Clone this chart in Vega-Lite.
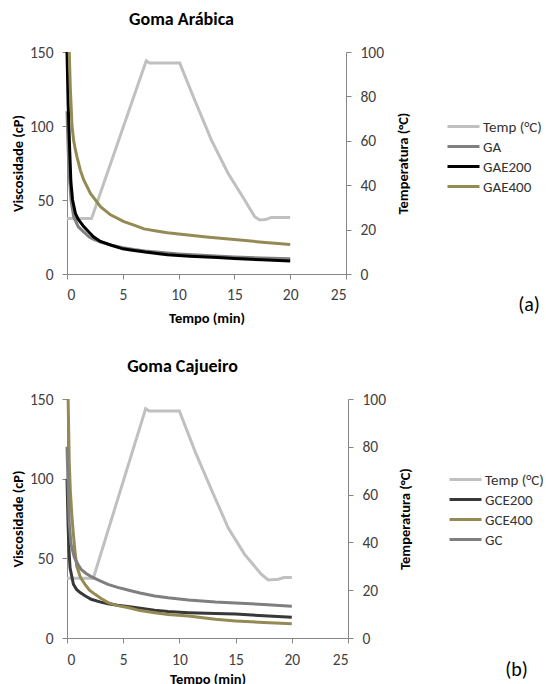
{
  "$schema": "https://vega.github.io/schema/vega-lite/v6.json",
  "padding": {"top": 11, "left": 10, "right": 2, "bottom": 0},
  "config": {
    "font": "Carlito, Lato, sans-serif",
    "view": {"stroke": null},
    "axis": {"grid": false, "domainColor": "#868686", "tickColor": "#868686", "labelFontSize": 15.5, "labelColor": "#404040", "titleFontSize": 14.5, "titleFontWeight": "bold", "titleColor": "#000000", "tickSize": 5},
    "legend": {"labelFontSize": 15, "labelColor": "#333333", "symbolType": "M-2,0H2", "symbolSize": 256, "symbolStrokeWidth": 3, "rowPadding": 2, "labelOffset": 10, "padding": 0},
    "title": {"fontSize": 18, "fontWeight": "bold", "color": "#000000"}
  },
  "datasets": {
    "aVisc": [
      {"s": "GA", "t": 0, "v": 110}, {"s": "GA", "t": 0.1, "v": 85}, {"s": "GA", "t": 0.2, "v": 68}, {"s": "GA", "t": 0.36, "v": 50}, {"s": "GA", "t": 0.6, "v": 38.7}, {"s": "GA", "t": 1, "v": 32}, {"s": "GA", "t": 1.35, "v": 29.5}, {"s": "GA", "t": 2, "v": 25}, {"s": "GA", "t": 2.4, "v": 23.4}, {"s": "GA", "t": 3, "v": 21.5}, {"s": "GA", "t": 4, "v": 19.5}, {"s": "GA", "t": 5, "v": 17.8}, {"s": "GA", "t": 6, "v": 16.5}, {"s": "GA", "t": 7, "v": 15.5}, {"s": "GA", "t": 8, "v": 14.8}, {"s": "GA", "t": 10, "v": 13.6}, {"s": "GA", "t": 12.5, "v": 12.5}, {"s": "GA", "t": 15, "v": 11.5}, {"s": "GA", "t": 17.5, "v": 10.8}, {"s": "GA", "t": 20, "v": 10.3},
      {"s": "GAE200", "t": 0, "v": 150}, {"s": "GAE200", "t": 0.1, "v": 115}, {"s": "GAE200", "t": 0.24, "v": 84}, {"s": "GAE200", "t": 0.35, "v": 62}, {"s": "GAE200", "t": 0.5, "v": 50}, {"s": "GAE200", "t": 0.75, "v": 41}, {"s": "GAE200", "t": 1, "v": 37}, {"s": "GAE200", "t": 1.5, "v": 32}, {"s": "GAE200", "t": 2, "v": 28}, {"s": "GAE200", "t": 2.4, "v": 25}, {"s": "GAE200", "t": 3, "v": 22}, {"s": "GAE200", "t": 3.9, "v": 19.6}, {"s": "GAE200", "t": 5, "v": 17}, {"s": "GAE200", "t": 5.7, "v": 16.2}, {"s": "GAE200", "t": 7, "v": 14.8}, {"s": "GAE200", "t": 9, "v": 13}, {"s": "GAE200", "t": 11, "v": 12}, {"s": "GAE200", "t": 13.5, "v": 11.1}, {"s": "GAE200", "t": 15, "v": 10.5}, {"s": "GAE200", "t": 17.5, "v": 9.6}, {"s": "GAE200", "t": 20, "v": 8.8},
      {"s": "GAE400", "t": 0.2, "v": 150}, {"s": "GAE400", "t": 0.3, "v": 125}, {"s": "GAE400", "t": 0.45, "v": 100}, {"s": "GAE400", "t": 0.6, "v": 90}, {"s": "GAE400", "t": 0.75, "v": 84}, {"s": "GAE400", "t": 0.9, "v": 79}, {"s": "GAE400", "t": 1.2, "v": 70}, {"s": "GAE400", "t": 1.5, "v": 63.5}, {"s": "GAE400", "t": 2.1, "v": 54.5}, {"s": "GAE400", "t": 3, "v": 45.5}, {"s": "GAE400", "t": 3.9, "v": 40}, {"s": "GAE400", "t": 5.1, "v": 35.4}, {"s": "GAE400", "t": 6, "v": 33}, {"s": "GAE400", "t": 6.9, "v": 30.5}, {"s": "GAE400", "t": 8, "v": 29}, {"s": "GAE400", "t": 9, "v": 27.8}, {"s": "GAE400", "t": 10, "v": 27}, {"s": "GAE400", "t": 12.5, "v": 25}, {"s": "GAE400", "t": 15, "v": 23.3}, {"s": "GAE400", "t": 17.5, "v": 21.5}, {"s": "GAE400", "t": 20, "v": 20}
    ],
    "aTemp": [
      {"s": "Temp (°C)", "t": 0, "c": 25}, {"s": "Temp (°C)", "t": 2.2, "c": 25}, {"s": "Temp (°C)", "t": 7.1, "c": 96}, {"s": "Temp (°C)", "t": 7.4, "c": 95}, {"s": "Temp (°C)", "t": 10.1, "c": 95}, {"s": "Temp (°C)", "t": 11.44, "c": 78.4}, {"s": "Temp (°C)", "t": 12.93, "c": 60.4}, {"s": "Temp (°C)", "t": 14.43, "c": 45.4}, {"s": "Temp (°C)", "t": 15.92, "c": 33.3}, {"s": "Temp (°C)", "t": 16.82, "c": 25.8}, {"s": "Temp (°C)", "t": 17.27, "c": 24.3}, {"s": "Temp (°C)", "t": 17.8, "c": 24.5}, {"s": "Temp (°C)", "t": 18.3, "c": 25.5}, {"s": "Temp (°C)", "t": 20, "c": 25.5}
    ],
    "bVisc": [
      {"s": "GCE200", "t": 0, "v": 100}, {"s": "GCE200", "t": 0.1, "v": 70}, {"s": "GCE200", "t": 0.18, "v": 55}, {"s": "GCE200", "t": 0.27, "v": 44}, {"s": "GCE200", "t": 0.57, "v": 33.7}, {"s": "GCE200", "t": 0.85, "v": 30.5}, {"s": "GCE200", "t": 1.17, "v": 28.5}, {"s": "GCE200", "t": 1.6, "v": 26.5}, {"s": "GCE200", "t": 2.15, "v": 24.3}, {"s": "GCE200", "t": 3, "v": 22.5}, {"s": "GCE200", "t": 3.65, "v": 21.5}, {"s": "GCE200", "t": 4.5, "v": 20.5}, {"s": "GCE200", "t": 5.75, "v": 19.5}, {"s": "GCE200", "t": 7, "v": 18.2}, {"s": "GCE200", "t": 7.8, "v": 17.4}, {"s": "GCE200", "t": 9, "v": 16.6}, {"s": "GCE200", "t": 10.8, "v": 15.9}, {"s": "GCE200", "t": 13.2, "v": 15.3}, {"s": "GCE200", "t": 15, "v": 15}, {"s": "GCE200", "t": 17.5, "v": 14}, {"s": "GCE200", "t": 20, "v": 13},
      {"s": "GCE400", "t": 0.1, "v": 150}, {"s": "GCE400", "t": 0.2, "v": 110}, {"s": "GCE400", "t": 0.3, "v": 92}, {"s": "GCE400", "t": 0.45, "v": 75}, {"s": "GCE400", "t": 0.57, "v": 65}, {"s": "GCE400", "t": 0.7, "v": 55}, {"s": "GCE400", "t": 0.87, "v": 45}, {"s": "GCE400", "t": 1.2, "v": 38}, {"s": "GCE400", "t": 1.6, "v": 33.7}, {"s": "GCE400", "t": 2, "v": 30}, {"s": "GCE400", "t": 2.5, "v": 27.4}, {"s": "GCE400", "t": 3, "v": 25}, {"s": "GCE400", "t": 3.65, "v": 22.2}, {"s": "GCE400", "t": 4.5, "v": 20.3}, {"s": "GCE400", "t": 5.5, "v": 19}, {"s": "GCE400", "t": 6.5, "v": 17.2}, {"s": "GCE400", "t": 7.8, "v": 15.9}, {"s": "GCE400", "t": 9, "v": 14.8}, {"s": "GCE400", "t": 10.8, "v": 13.8}, {"s": "GCE400", "t": 13.2, "v": 11.7}, {"s": "GCE400", "t": 15, "v": 10.7}, {"s": "GCE400", "t": 17.5, "v": 9.7}, {"s": "GCE400", "t": 20, "v": 9},
      {"s": "GC", "t": 0, "v": 120}, {"s": "GC", "t": 0.1, "v": 95}, {"s": "GC", "t": 0.2, "v": 72}, {"s": "GC", "t": 0.36, "v": 58.8}, {"s": "GC", "t": 0.66, "v": 50.4}, {"s": "GC", "t": 1, "v": 46}, {"s": "GC", "t": 1.26, "v": 43}, {"s": "GC", "t": 1.7, "v": 40.5}, {"s": "GC", "t": 2.2, "v": 38.3}, {"s": "GC", "t": 2.9, "v": 36}, {"s": "GC", "t": 3.65, "v": 33.7}, {"s": "GC", "t": 4.5, "v": 31.8}, {"s": "GC", "t": 5.5, "v": 30}, {"s": "GC", "t": 6.5, "v": 28.2}, {"s": "GC", "t": 7.8, "v": 26.4}, {"s": "GC", "t": 9, "v": 25.2}, {"s": "GC", "t": 10, "v": 24.5}, {"s": "GC", "t": 10.8, "v": 23.9}, {"s": "GC", "t": 13.2, "v": 22.6}, {"s": "GC", "t": 15, "v": 22}, {"s": "GC", "t": 17.5, "v": 21}, {"s": "GC", "t": 20, "v": 20}
    ],
    "bTemp": [
      {"s": "Temp (°C)", "t": 0, "c": 25}, {"s": "Temp (°C)", "t": 2.34, "c": 25}, {"s": "Temp (°C)", "t": 7.0, "c": 96}, {"s": "Temp (°C)", "t": 7.3, "c": 95}, {"s": "Temp (°C)", "t": 10.0, "c": 95}, {"s": "Temp (°C)", "t": 11.4, "c": 78}, {"s": "Temp (°C)", "t": 12.9, "c": 61.5}, {"s": "Temp (°C)", "t": 14.35, "c": 46}, {"s": "Temp (°C)", "t": 15.8, "c": 35}, {"s": "Temp (°C)", "t": 17.3, "c": 26.6}, {"s": "Temp (°C)", "t": 17.9, "c": 24.3}, {"s": "Temp (°C)", "t": 18.8, "c": 24.6}, {"s": "Temp (°C)", "t": 19.3, "c": 25.3}, {"s": "Temp (°C)", "t": 20, "c": 25.3}
    ]
  },
  "vconcat": [
    {
      "title": {"text": "Goma Arábica", "anchor": "middle", "dx": -25, "offset": 16},
      "width": 279,
      "height": 222,
      "layer": [
        {
          "data": {"name": "aTemp"},
          "mark": {"type": "line", "strokeWidth": 3},
          "encoding": {
            "x": {"field": "t", "type": "quantitative", "scale": {"domain": [0, 25], "nice": false}, "axis": {"values": [0, 5, 10, 15, 20, 25], "title": "Tempo (min)", "labelPadding": 8, "titlePadding": 9}},
            "y": {"field": "c", "type": "quantitative", "scale": {"domain": [0, 100], "nice": false}, "axis": {"orient": "right", "values": [0, 20, 40, 60, 80, 100], "title": "Temperatura (°C)", "titleAngle": 270, "titleBaseline": "top", "labelPadding": 9, "titlePadding": 13}},
            "color": {"field": "s", "type": "nominal", "scale": {"domain": ["Temp (°C)", "GA", "GAE200", "GAE400"], "range": ["#c0c0c0", "#808080", "#000000", "#948a54"]}, "legend": {"title": null, "orient": "none", "legendX": 387, "legendY": 65}}
          }
        },
        {
          "layer": [
            {
              "data": {"name": "aVisc"},
              "mark": {"type": "line", "strokeWidth": 3},
              "encoding": {
                "x": {"field": "t", "type": "quantitative"},
                "y": {"field": "v", "type": "quantitative", "scale": {"domain": [0, 150], "nice": false}, "axis": {"orient": "left", "values": [0, 50, 100, 150], "title": "Viscosidade  (cP)", "labelPadding": 9, "titlePadding": 4}},
                "color": {"field": "s", "type": "nominal"}
              }
            },
            {
              "data": {"values": [{"label": "(a)"}]},
              "mark": {"type": "text", "fontSize": 20, "color": "#000000", "font": "Carlito, Lato, sans-serif"},
              "encoding": {
                "x": {"datum": 41.4},
                "y": {"datum": -21},
                "text": {"field": "label"}
              }
            }
          ]
        }
      ],
      "resolve": {"scale": {"y": "independent"}}
    },
    {
      "title": {"text": "Goma Cajueiro", "anchor": "middle", "dx": -25, "offset": 16},
      "width": 281,
      "height": 239,
      "layer": [
        {
          "data": {"name": "bTemp"},
          "mark": {"type": "line", "strokeWidth": 3},
          "encoding": {
            "x": {"field": "t", "type": "quantitative", "scale": {"domain": [0, 25], "nice": false}, "axis": {"values": [0, 5, 10, 15, 20, 25], "title": "Tempo (min)", "labelPadding": 9, "titlePadding": 5}},
            "y": {"field": "c", "type": "quantitative", "scale": {"domain": [0, 100], "nice": false}, "axis": {"orient": "right", "values": [0, 20, 40, 60, 80, 100], "title": "Temperatura (°C)", "titleAngle": 270, "titleBaseline": "top", "labelPadding": 9, "titlePadding": 13}},
            "color": {"field": "s", "type": "nominal", "scale": {"domain": ["Temp (°C)", "GCE200", "GCE400", "GC"], "range": ["#c0c0c0", "#383838", "#948a54", "#7f7f7f"]}, "legend": {"title": null, "orient": "none", "legendX": 389, "legendY": 71}}
          }
        },
        {
          "layer": [
            {
              "data": {"name": "bVisc"},
              "mark": {"type": "line", "strokeWidth": 3},
              "encoding": {
                "x": {"field": "t", "type": "quantitative"},
                "y": {"field": "v", "type": "quantitative", "scale": {"domain": [0, 150], "nice": false}, "axis": {"orient": "left", "values": [0, 50, 100, 150], "title": "Viscosidade  (cP)", "labelPadding": 9, "titlePadding": 4}},
                "color": {"field": "s", "type": "nominal"}
              }
            },
            {
              "data": {"values": [{"label": "(b)"}]},
              "mark": {"type": "text", "fontSize": 20, "color": "#000000", "font": "Carlito, Lato, sans-serif"},
              "encoding": {
                "x": {"datum": 40},
                "y": {"datum": -20},
                "text": {"field": "label"}
              }
            }
          ]
        }
      ],
      "resolve": {"scale": {"y": "independent"}}
    }
  ],
  "spacing": 33,
  "resolve": {"scale": {"color": "independent"}}
}
